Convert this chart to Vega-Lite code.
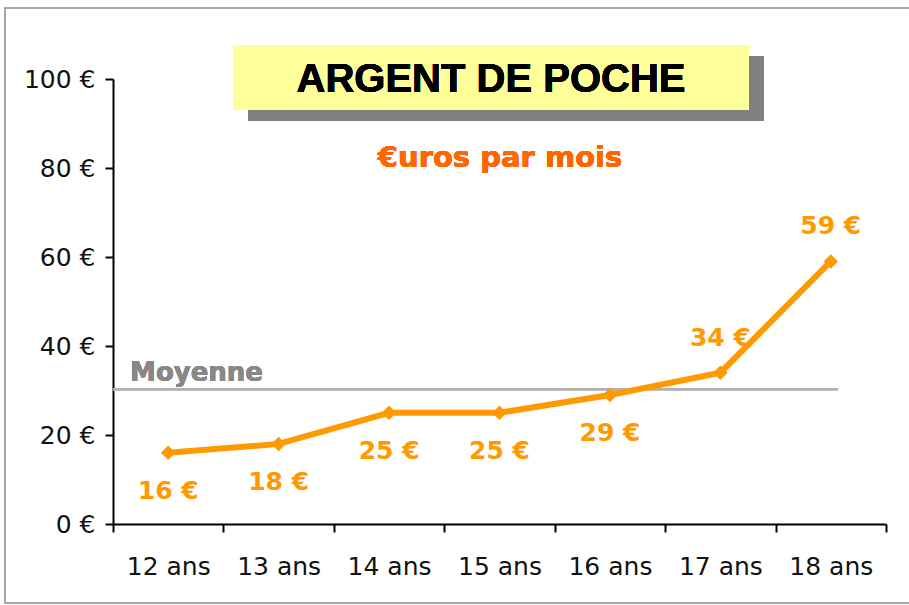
{
  "$schema": "https://vega.github.io/schema/vega-lite/v6.json",
  "width": 773,
  "height": 445,
  "autosize": {"type": "none"},
  "padding": {"left": 113, "top": 79, "right": 23, "bottom": 81},
  "background": "#FFFFFF",
  "config": {
    "view": {"stroke": null},
    "axis": {"grid": false, "domainColor": "#000000", "domainWidth": 2, "tickColor": "#000000", "tickWidth": 2, "tickSize": 8, "labelFont": "DejaVu Sans", "labelFontSize": 25, "labelColor": "#111111"}
  },
  "data": {"values": [
    {"age": "12 ans", "euros": 16, "label": "16 €"},
    {"age": "13 ans", "euros": 18, "label": "18 €"},
    {"age": "14 ans", "euros": 25, "label": "25 €"},
    {"age": "15 ans", "euros": 25, "label": "25 €"},
    {"age": "16 ans", "euros": 29, "label": "29 €"},
    {"age": "17 ans", "euros": 34, "label": "34 €"},
    {"age": "18 ans", "euros": 59, "label": "59 €"}
  ]},
  "resolve": {"scale": {"x": "independent"}},
  "layer": [
    {
      "mark": {"type": "rect", "fillOpacity": 0, "stroke": "#A6A6A6", "strokeWidth": 2, "clip": false},
      "encoding": {
        "x": {"datum": -0.978, "type": "quantitative", "scale": {"domain": [0, 7], "nice": false, "zero": false}, "axis": null},
        "x2": {"datum": 7.4},
        "y": {"datum": 115.96, "type": "quantitative", "scale": {"domain": [0, 100], "nice": false}},
        "y2": {"datum": -17.75}
      }
    },
    {
      "mark": {"type": "rect", "fill": "#808080", "clip": false},
      "encoding": {
        "x": {"datum": 1.2225, "type": "quantitative", "scale": {"domain": [0, 7], "nice": false, "zero": false}, "axis": null},
        "x2": {"datum": 5.895},
        "y": {"datum": 105.17, "type": "quantitative", "scale": {"domain": [0, 100], "nice": false}},
        "y2": {"datum": 90.56}
      }
    },
    {
      "mark": {"type": "rect", "fill": "#FFFF99", "clip": false},
      "encoding": {
        "x": {"datum": 1.0867, "type": "quantitative", "scale": {"domain": [0, 7], "nice": false, "zero": false}, "axis": null},
        "x2": {"datum": 5.759},
        "y": {"datum": 107.64, "type": "quantitative", "scale": {"domain": [0, 100], "nice": false}},
        "y2": {"datum": 93.03}
      }
    },
    {
      "mark": {"type": "text", "font": "Liberation Sans", "fontSize": 40, "fontWeight": "bold", "color": "#000000", "align": "center", "baseline": "alphabetic", "clip": false},
      "encoding": {
        "x": {"datum": 3.423, "type": "quantitative", "scale": {"domain": [0, 7], "nice": false, "zero": false}, "axis": null},
        "y": {"datum": 97.1, "type": "quantitative", "scale": {"domain": [0, 100], "nice": false}},
        "text": {"value": "ARGENT DE POCHE"}
      }
    },
    {
      "mark": {"type": "text", "font": "DejaVu Sans", "fontSize": 29, "fontWeight": "bold", "color": "#FF6600", "align": "center", "baseline": "alphabetic", "clip": false},
      "encoding": {
        "x": {"datum": 3.505, "type": "quantitative", "scale": {"domain": [0, 7], "nice": false, "zero": false}, "axis": null},
        "y": {"datum": 80.2, "type": "quantitative", "scale": {"domain": [0, 100], "nice": false}},
        "text": {"value": "€uros par mois"}
      }
    },
    {
      "mark": {"type": "rule", "color": "#B2B2B2", "strokeWidth": 2},
      "encoding": {
        "x": {"datum": 0, "type": "quantitative", "scale": {"domain": [0, 7], "nice": false, "zero": false}, "axis": null},
        "x2": {"datum": 6.565},
        "y": {"datum": 30.3, "type": "quantitative", "scale": {"domain": [0, 100], "nice": false}}
      }
    },
    {
      "mark": {"type": "text", "font": "DejaVu Sans", "fontSize": 26, "fontWeight": "bold", "color": "#888888", "align": "left", "baseline": "alphabetic"},
      "encoding": {
        "x": {"datum": 0.154, "type": "quantitative", "scale": {"domain": [0, 7], "nice": false, "zero": false}, "axis": null},
        "y": {"datum": 32.2, "type": "quantitative", "scale": {"domain": [0, 100], "nice": false}},
        "text": {"value": "Moyenne"}
      }
    },
    {
      "mark": {"type": "line", "color": "#FF9900", "strokeWidth": 6, "point": {"shape": "diamond", "size": 210, "filled": true, "color": "#FF9900", "opacity": 1}},
      "encoding": {
        "x": {"field": "age", "type": "ordinal", "sort": null, "scale": {"type": "band", "paddingInner": 0, "paddingOuter": 0, "domain": ["12 ans", "13 ans", "14 ans", "15 ans", "16 ans", "17 ans", "18 ans"]},
          "axis": {"title": null, "labelAngle": 0, "tickBand": "extent", "labelPadding": 22}},
        "y": {"field": "euros", "type": "quantitative", "scale": {"domain": [0, 100], "nice": false},
          "axis": {"title": null, "values": [0, 20, 40, 60, 80, 100], "labelExpr": "datum.value + ' €'", "labelPadding": 10}}
      }
    },
    {
      "transform": [{"filter": "datum.euros < 30"}],
      "mark": {"type": "text", "font": "DejaVu Sans", "fontSize": 25, "fontWeight": "bold", "color": "#FF9900", "align": "center", "baseline": "alphabetic", "dy": 46},
      "encoding": {
        "x": {"field": "age", "type": "ordinal", "sort": null, "scale": {"type": "band", "paddingInner": 0, "paddingOuter": 0, "domain": ["12 ans", "13 ans", "14 ans", "15 ans", "16 ans", "17 ans", "18 ans"]}, "axis": null},
        "y": {"field": "euros", "type": "quantitative", "scale": {"domain": [0, 100], "nice": false}},
        "text": {"field": "label"}
      }
    },
    {
      "transform": [{"filter": "datum.euros >= 30"}],
      "mark": {"type": "text", "font": "DejaVu Sans", "fontSize": 25, "fontWeight": "bold", "color": "#FF9900", "align": "center", "baseline": "alphabetic", "dy": -27},
      "encoding": {
        "x": {"field": "age", "type": "ordinal", "sort": null, "scale": {"type": "band", "paddingInner": 0, "paddingOuter": 0, "domain": ["12 ans", "13 ans", "14 ans", "15 ans", "16 ans", "17 ans", "18 ans"]}, "axis": null},
        "y": {"field": "euros", "type": "quantitative", "scale": {"domain": [0, 100], "nice": false}},
        "text": {"field": "label"}
      }
    }
  ]
}
